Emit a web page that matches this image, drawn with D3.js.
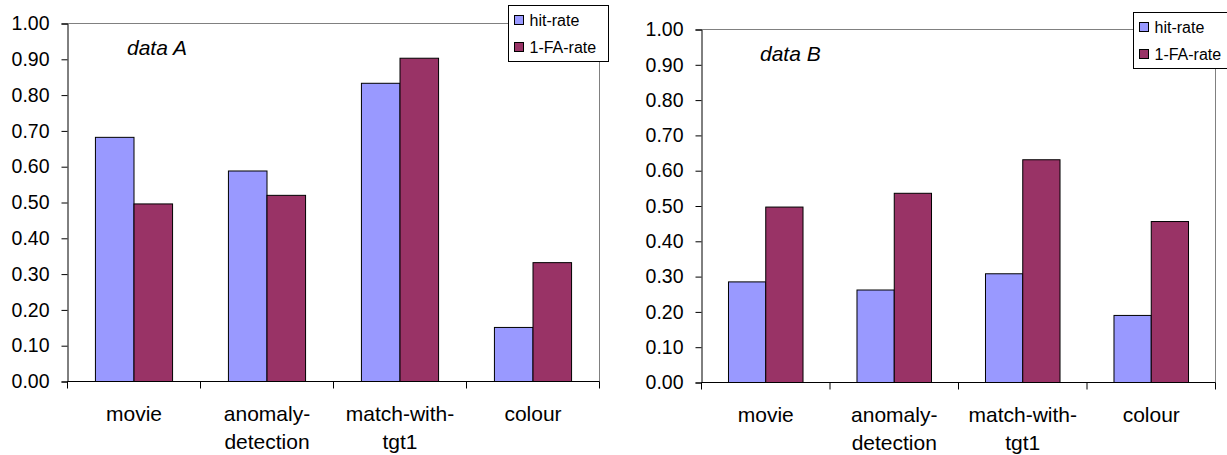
<!DOCTYPE html>
<html><head><meta charset="utf-8">
<script src="https://cdn.jsdelivr.net/npm/d3@7"></script>
<style>
html,body{margin:0;padding:0;background:#fff;}
svg{display:block;font-family:Arial,"Liberation Sans",sans-serif;}
</style></head>
<body>
<svg id="c" width="1227" height="455"></svg>
<script>
const categories = [["movie"], ["anomaly-", "detection"], ["match-with-", "tgt1"], ["colour"]];
const seriesNames = ["hit-rate", "1-FA-rate"];
const seriesColors = ["#9999FF", "#993366"];
const hitA = [0.682, 0.588, 0.833, 0.151];
const faA  = [0.496, 0.520, 0.903, 0.332];
const hitB = [0.285, 0.262, 0.308, 0.190];
const faB  = [0.497, 0.536, 0.631, 0.456];
const yTicks = [0, 0.1, 0.2, 0.3, 0.4, 0.5, 0.6, 0.7, 0.8, 0.9, 1.0];

const svg = d3.select("#c");

function drawChart(o) {
  const g = svg.append("g");
  const x = d3.scaleBand().domain(d3.range(categories.length)).range([o.x0, o.x1]).paddingInner(0).paddingOuter(0);
  const y = d3.scaleLinear().domain([0, 1]).range([o.yb, o.yt]);
  const bw = x.bandwidth() * 0.29;
  const series = [o.hit, o.fa];

  // plot frame (top & right, gray)
  g.append("line").attr("x1", o.x0).attr("x2", o.x1).attr("y1", y(1)).attr("y2", y(1)).attr("stroke", "#808080").attr("stroke-width", 1);
  g.append("line").attr("x1", o.x1).attr("x2", o.x1).attr("y1", y(1)).attr("y2", y(0)).attr("stroke", "#808080").attr("stroke-width", 1);

  // bars
  series.forEach((vals, si) => {
    g.selectAll(null).data(vals).enter().append("rect")
      .attr("x", (d, i) => x(i) + x.bandwidth() / 2 - bw + si * bw)
      .attr("y", d => y(d))
      .attr("width", bw)
      .attr("height", d => y(0) - y(d))
      .attr("fill", seriesColors[si])
      .attr("stroke", "#000").attr("stroke-width", 1);
  });

  // y axis
  const ya = d3.axisLeft(y).tickValues(yTicks).tickFormat(d3.format(".2f")).tickSize(6).tickPadding(12);
  const yg = g.append("g").attr("transform", `translate(${o.x0},0)`).call(ya);
  yg.select(".domain").attr("stroke", "#000");
  yg.selectAll(".tick line").attr("stroke", "#000");
  yg.selectAll("text").attr("font-size", 19.5).attr("fill", "#000").attr("font-family", "Arial, 'Liberation Sans', sans-serif");

  // x axis baseline + boundary ticks
  g.append("line").attr("x1", o.x0).attr("x2", o.x1).attr("y1", y(0)).attr("y2", y(0)).attr("stroke", "#000");
  const bounds = d3.range(categories.length + 1).map(i => i < categories.length ? x(i) : o.x1);
  g.selectAll(null).data(bounds).enter().append("line")
    .attr("x1", d => d).attr("x2", d => d).attr("y1", y(0)).attr("y2", y(0) + 7).attr("stroke", "#000");

  // category labels
  categories.forEach((lines, i) => {
    const t = g.append("text").attr("text-anchor", "middle").attr("font-size", 21).attr("fill", "#000")
      .attr("x", x(i) + x.bandwidth() / 2).attr("y", y(0) + 39);
    lines.forEach((ln, j) => t.append("tspan").attr("x", x(i) + x.bandwidth() / 2).attr("dy", j === 0 ? 0 : 28).text(ln));
  });

  // dataset label
  g.append("text").attr("x", o.lx).attr("y", o.ly).attr("font-size", 21).attr("font-style", "italic").attr("fill", "#000").text(o.label);

  // legend
  const lg = g.append("g").attr("transform", `translate(${o.legX},${o.legY})`);
  lg.append("rect").attr("x", 0).attr("y", 0).attr("width", 100).attr("height", 56).attr("fill", "#fff").attr("stroke", "#000").attr("stroke-width", 1);
  seriesNames.forEach((nm, i) => {
    lg.append("rect").attr("x", 6).attr("y", 10 + i * 27).attr("width", 9).attr("height", 9)
      .attr("fill", seriesColors[i]).attr("stroke", "#000").attr("stroke-width", 1);
    lg.append("text").attr("x", 21).attr("y", 20 + i * 27).attr("font-size", 16).attr("fill", "#000").text(nm);
  });
}

drawChart({x0: 67.5, x1: 599.5, yt: 23.5, yb: 381.5, hit: hitA, fa: faA, label: "data A", lx: 127, ly: 55, legX: 508.5, legY: 5.5});
drawChart({x0: 701.5, x1: 1215.5, yt: 29.5, yb: 382.5, hit: hitB, fa: faB, label: "data B", lx: 760, ly: 61, legX: 1133.5, legY: 12.5});
</script>
</body></html>
